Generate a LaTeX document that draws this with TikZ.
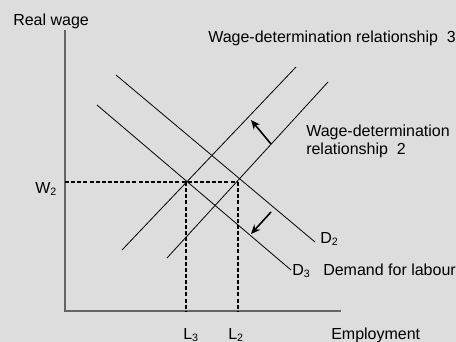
\documentclass[tikz,border=0pt]{standalone}
\usepackage{fontspec}
\setmainfont{Liberation Sans}
\usetikzlibrary{arrows.meta}
\definecolor{bggray}{RGB}{221,221,221}
\definecolor{axisgray}{RGB}{100,100,100}

\begin{document}
\begin{tikzpicture}[x=0.75pt,y=-0.75pt,
  lbl/.style={anchor=base west,inner sep=0pt,font=\fontsize{12}{13.5}\selectfont},
  axis/.style={draw=axisgray,line width=1.1pt},
  sched/.style={line width=0.6pt},
  guide/.style={line width=1.1pt,dash pattern=on 3pt off 1.6pt},
  shiftarrow/.style={-{Stealth[length=7pt,width=6pt]},line width=1.2pt}]
\fill[bggray] (0,0) rectangle (456,342);
\useasboundingbox (0,0) rectangle (456,342);

% axes
\coordinate (o) at (65,311);
\coordinate (ytop) at (65,30);
\coordinate (xend) at (341,311);
\draw[axis] (ytop) -- (o) -- (xend);

% demand and wage-determination schedules
\coordinate (dtwoa) at (116,75);   \coordinate (dtwob) at (315,242);
\coordinate (dthreea) at (97,105); \coordinate (dthreeb) at (291,270);
\coordinate (wdthreea) at (122,250); \coordinate (wdthreeb) at (296,67);
\coordinate (wdtwoa) at (167,258);   \coordinate (wdtwob) at (328,82);
\draw[sched] (dtwoa) -- (dtwob);
\draw[sched] (dthreea) -- (dthreeb);
\draw[sched] (wdthreea) -- (wdthreeb);
\draw[sched] (wdtwoa) -- (wdtwob);

% equilibria
\coordinate (ethree) at (186,182);
\coordinate (etwo) at (238,182);
\draw[guide] (o |- ethree) -- (etwo);
\draw[guide] (ethree) -- (ethree |- o);
\draw[guide] (etwo) -- (etwo |- o);

% shifts
\coordinate (upfrom) at (271,144); \coordinate (upto) at (251,120);
\coordinate (downfrom) at (271,212); \coordinate (downto) at (251,234);
\draw[shiftarrow] (upfrom) -- (upto);
\draw[shiftarrow] (downfrom) -- (downto);

% labels
\node[lbl] (ylabel) at (13,26) {Real wage};
\node[lbl] (xlabel) at (331,339) {Employment};
\node[lbl] (wtwo) at (35,193) {W\textsubscript{2}};
\node[lbl] (lthree) at (183,339) {L\textsubscript{3}};
\node[lbl] (ltwo) at (228,339) {L\textsubscript{2}};
\node[lbl] (dtwo) at (320,243) {D\textsubscript{2}};
\node[lbl] (dthree) at (292,275) {D\textsubscript{3}};
\node[lbl] (demand) at (323,275) {Demand for labour};
\node[lbl] (wdthree) at (208,43) {Wage-determination relationship\ \ 3};
\node[lbl,anchor=north west,align=left] (wdtwo) at (306,125) {Wage-determination\\relationship\ \ 2};
\end{tikzpicture}
\end{document}
